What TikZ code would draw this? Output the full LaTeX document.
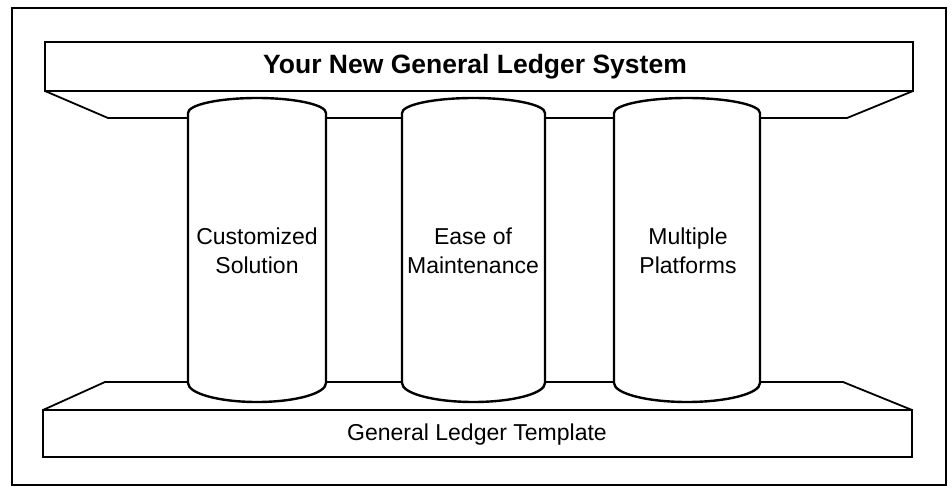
\documentclass[tikz,border=0pt]{standalone}
\usepackage{fontspec}
\setmainfont{Liberation Sans}
\tikzset{
    slab/.style={draw, line width=1.8pt, fill=white},
    pillar/.style={draw, line width=2.4pt, fill=white},
    pillartext/.style={align=center, font=\fontsize{23}{28.5}\selectfont}
}
\begin{document}
\begin{tikzpicture}[x=1pt, y=-1pt]
        \useasboundingbox (0,0) rectangle (952,487);

        % Frame
        \draw[line width=2.4pt] (12,8) rectangle (946,485);

        % Top slab and its underside
        \draw[line width=1.8pt] (45,91) -- (108,118) -- (847,118) -- (913,91);
        \node[slab, minimum width=868pt, minimum height=49pt, inner sep=0pt] (system) at (479,66.5) {};
        \node[font=\fontsize{26.5}{30}\selectfont\bfseries] (systemtext) at (475,67) {Your New General Ledger System};

        % Bottom slab and its top face
        \draw[line width=1.8pt] (43,410) -- (105,382) -- (843,382) -- (912,410);
        \node[slab, minimum width=869pt, minimum height=47pt, inner sep=0pt] (template) at (477.5,433.5) {};
        \node[font=\fontsize{23}{28}\selectfont] (templatetext) at (477,435) {General Ledger Template};

        % Pillars
        \draw[pillar] (188,383) -- (188,113) arc[start angle=180, end angle=360, x radius=69, y radius=15]
            -- (326,383) arc[start angle=0, end angle=180, x radius=69, y radius=19] -- cycle;
        \draw[pillar] (402,383) -- (402,113) arc[start angle=180, end angle=360, x radius=71.5, y radius=15]
            -- (545,383) arc[start angle=0, end angle=180, x radius=71.5, y radius=19] -- cycle;
        \draw[pillar] (614,383) -- (614,113) arc[start angle=180, end angle=360, x radius=73, y radius=15]
            -- (760,383) arc[start angle=0, end angle=180, x radius=73, y radius=19] -- cycle;

        % Pillar labels
        \node[pillartext] (custom) at (257,251) {Customized\\Solution};
        \node[pillartext] (ease) at (473,251) {Ease of\\Maintenance};
        \node[pillartext] (multi) at (688,251) {Multiple\\Platforms};

    \end{tikzpicture}
\end{document}
